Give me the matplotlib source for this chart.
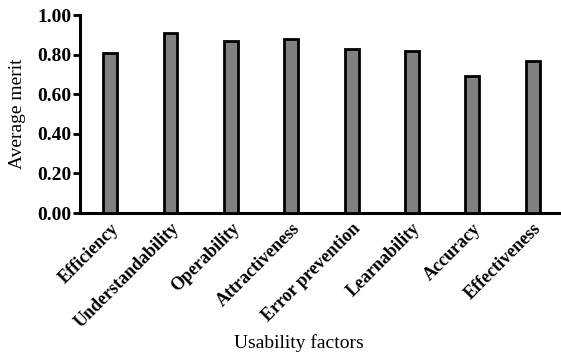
import numpy as np
import matplotlib.pyplot as plt

factors = ["Efficiency", "Understandability", "Operability", "Attractiveness",
           "Error prevention", "Learnability", "Accuracy", "Effectiveness"]
merit = [0.81, 0.91, 0.87, 0.88, 0.83, 0.82, 0.69, 0.77]
yticks = [0.0, 0.2, 0.4, 0.6, 0.8, 1.0]

plt.rcParams['font.family'] = ['Liberation Serif', 'DejaVu Serif']

fig = plt.figure(figsize=(5.61, 3.58), dpi=100)
ax = fig.add_axes([0.1426, 0.405, 0.8574, 0.553])

x = np.arange(len(factors))
ax.bar(x, merit, width=0.23, color="#808080", edgecolor="black", linewidth=2.0, zorder=3)

ax.set_xlim(-0.50, 7.47)
ax.set_ylim(0, 1.0)
ax.set_yticks(yticks)
ax.set_yticklabels([f"{v:.2f}" for v in yticks], fontsize=14, fontweight="bold")
ax.set_xticks(x)
ax.set_xticklabels(factors, rotation=45, ha="right", rotation_mode="anchor",
                   fontsize=13, fontweight="bold")

for s in ["top", "right"]:
    ax.spines[s].set_visible(False)
for s in ["left", "bottom"]:
    ax.spines[s].set_linewidth(2.2)
ax.tick_params(axis="y", width=2, length=5, pad=1)
ax.tick_params(axis="x", length=0, pad=5)

ax.set_ylabel("Average merit", fontsize=14, labelpad=8)
ax.set_xlabel("Usability factors", fontsize=14, va="center")
ax.xaxis.set_label_coords(0.455, -0.655)

fig.savefig("out.png", dpi=100)
